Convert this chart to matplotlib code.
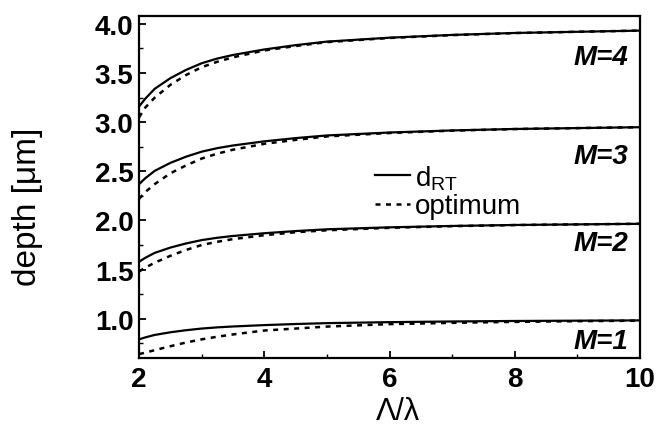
import numpy as np
import matplotlib
matplotlib.use("Agg")
import matplotlib.pyplot as plt
from matplotlib.ticker import MultipleLocator

plt.rcParams['font.family'] = ['Liberation Sans', 'DejaVu Sans']
plt.rcParams['mathtext.fontset'] = 'custom'
plt.rcParams['mathtext.rm'] = 'Liberation Sans'

# period / wavelength
ratio = [2, 2.1, 2.25, 2.5, 2.75, 3, 3.25, 3.5, 4, 4.5, 5, 6, 7, 8, 9, 10]

# d_RT (solid) for each order M
drt_m1 = [0.79, 0.81, 0.835, 0.862, 0.883, 0.90, 0.912, 0.921, 0.935, 0.946, 0.955, 0.965, 0.972, 0.977, 0.98, 0.983]
drt_m2 = [1.58, 1.62, 1.67, 1.724, 1.766, 1.80, 1.824, 1.842, 1.87, 1.892, 1.91, 1.93, 1.944, 1.954, 1.96, 1.966]
drt_m3 = [2.37, 2.43, 2.505, 2.586, 2.649, 2.70, 2.736, 2.763, 2.805, 2.838, 2.865, 2.895, 2.916, 2.931, 2.94, 2.949]
drt_m4 = [3.16, 3.24, 3.34, 3.448, 3.532, 3.60, 3.648, 3.684, 3.74, 3.784, 3.82, 3.86, 3.888, 3.908, 3.92, 3.932]

# optimum depth (dashed)
opt_m1 = [0.64, 0.655, 0.68, 0.72, 0.758, 0.79, 0.817, 0.84, 0.88, 0.90, 0.92, 0.945, 0.958, 0.968, 0.975, 0.98]
opt_m2 = [1.48, 1.52, 1.57, 1.64, 1.70, 1.75, 1.783, 1.81, 1.85, 1.88, 1.90, 1.925, 1.942, 1.953, 1.96, 1.966]
opt_m3 = [2.22, 2.29, 2.37, 2.48, 2.56, 2.63, 2.68, 2.72, 2.78, 2.82, 2.855, 2.89, 2.914, 2.93, 2.94, 2.949]
opt_m4 = [3.05, 3.15, 3.25, 3.38, 3.48, 3.56, 3.615, 3.66, 3.73, 3.775, 3.815, 3.857, 3.886, 3.907, 3.92, 3.932]

order_labels = ['M=1', 'M=2', 'M=3', 'M=4']
label_y = [0.77, 1.77, 2.66, 3.66]

fig = plt.figure(figsize=(6.56, 4.31), dpi=100)
ax = fig.add_axes([0.212, 0.167, 0.7636, 0.7934])

drt = [drt_m1, drt_m2, drt_m3, drt_m4]
opt = [opt_m1, opt_m2, opt_m3, opt_m4]
for i in range(4):
    ax.plot(ratio, drt[i], color='black', lw=1.6, ls='-',
            label=r'd$_{\mathrm{RT}}$' if i == 0 else None)
    ax.plot(ratio, opt[i], color='black', lw=1.8, ls=(0, (2.0, 2.2)),
            label='optimum' if i == 0 else None)
    ax.text(9.81, label_y[i], order_labels[i], ha='right', va='center',
            fontsize=20, style='italic', weight='bold')

ax.set_xlim(2, 10)
ax.set_ylim(0.6, 4.08)
ax.xaxis.set_major_locator(MultipleLocator(2))
ax.xaxis.set_minor_locator(MultipleLocator(1))
ax.yaxis.set_major_locator(MultipleLocator(0.5))
ax.yaxis.set_minor_locator(MultipleLocator(0.25))
ax.set_yticks([1.0, 1.5, 2.0, 2.5, 3.0, 3.5, 4.0])
ax.set_yticklabels(['1.0', '1.5', '2.0', '2.5', '3.0', '3.5', '4.0'])

ax.tick_params(which='both', direction='in', top=False, right=False)
ax.tick_params(which='major', length=5, width=1.3, labelsize=20)
ax.tick_params(axis='x', which='major', pad=6)
ax.tick_params(axis='y', which='major', pad=4)
ax.tick_params(which='minor', length=3, width=1.0)
for lbl in ax.get_xticklabels() + ax.get_yticklabels():
    lbl.set_fontweight('bold')
for s in ax.spines.values():
    s.set_linewidth(1.6)

ax.set_ylabel('depth [\u03bcm]', fontsize=24)
ax.yaxis.set_label_coords(-0.192, 0.444)
ax.set_xlabel('\u039b/\u03bb', fontsize=22)
ax.xaxis.set_label_coords(0.517, -0.11)

ax.legend(loc='center left', bbox_to_anchor=(0.471, 0.488), frameon=False,
          fontsize=20, handlelength=1.25, handletextpad=0.18, borderpad=0,
          borderaxespad=0, labelspacing=0.05)

fig.savefig('out.png', dpi=100)
